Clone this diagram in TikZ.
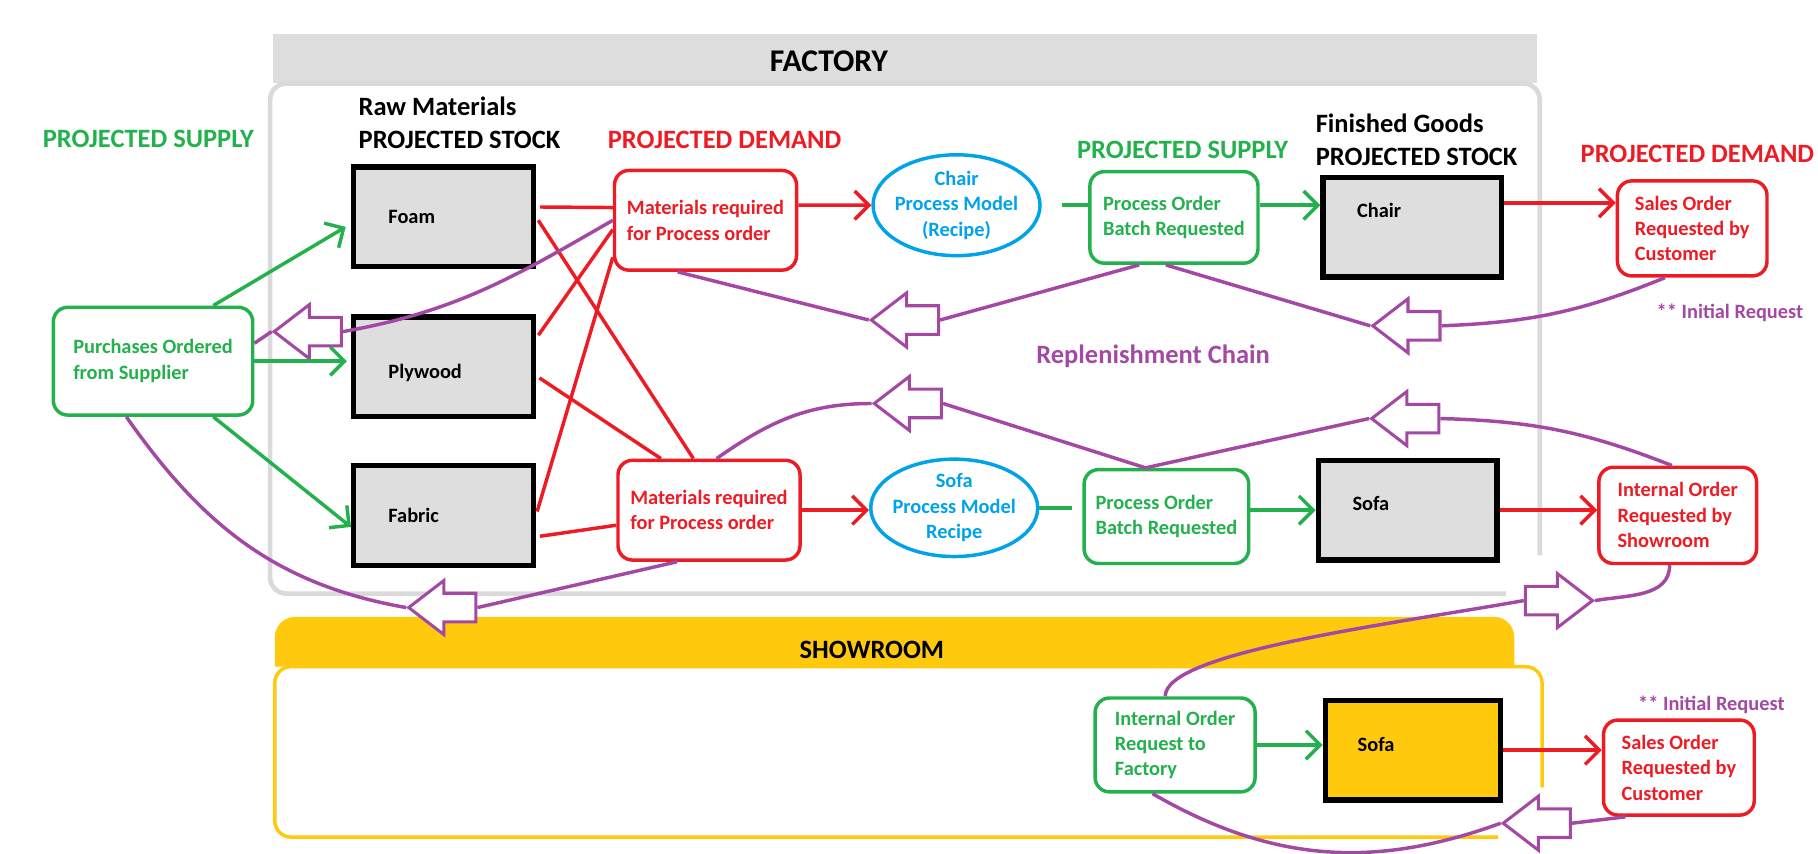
\documentclass[tikz,border=0pt]{standalone}
\usepackage{fontspec}
\setmainfont{Carlito}
\usetikzlibrary{positioning, arrows.meta, shapes.geometric, shapes.arrows}

\definecolor{supgreen}{HTML}{22B14C}
\definecolor{demred}{HTML}{ED1C24}
\definecolor{recblue}{HTML}{00A2E8}
\definecolor{repurple}{HTML}{A349A4}
\definecolor{showyellow}{HTML}{FFC90E}
\definecolor{stockgray}{HTML}{DEDEDE}
\definecolor{framegray}{HTML}{DADADA}

\begin{document}
\begin{tikzpicture}[
  boxfont/.style  = {font=\bfseries\fontsize{10}{12.5}\selectfont},
  stock/.style    = {rectangle, draw, line width=2.6pt, fill=stockgray, minimum width=3.1cm, minimum height=1.72cm, text width=1.9cm, align=left, inner sep=0pt, boxfont},
  demand/.style   = {rectangle, draw=demred, text=demred, line width=1.7pt, rounded corners=2.5mm, align=left, boxfont},
  supply/.style   = {rectangle, draw=supgreen, text=supgreen, line width=1.7pt, rounded corners=2.5mm, align=left, boxfont},
  recipe/.style   = {ellipse, draw=recblue, text=recblue, line width=1.7pt, minimum width=2.88cm, minimum height=1.74cm, inner sep=-2pt, align=center, boxfont},
  hdr/.style      = {font=\bfseries\fontsize{13}{16}\selectfont, align=left, inner sep=0pt},
  note/.style     = {font=\bfseries\fontsize{10}{12}\selectfont, text=repurple, inner sep=0pt},
  backarrow/.style = {single arrow, draw=repurple, fill=white, line width=1.5pt, minimum height=1.16cm, inner xsep=0pt, inner ysep=0.22cm, single arrow head extend=0.22cm, single arrow tip angle=75, shape border rotate=180},
  fwdarrow/.style = {backarrow, shape border rotate=0},
  sup/.style      = {supgreen, line width=1.7pt, -{Straight Barb[length=7pt, width=14pt]}},
  dem/.style      = {demred, line width=1.7pt, -{Straight Barb[length=7pt, width=14pt]}},
  feed/.style     = {demred, line width=1.7pt, shorten <=2pt},
  link/.style     = {supgreen, line width=1.7pt},
  repl/.style     = {repurple, line width=1.7pt},
  ]
  \useasboundingbox (0,0) rectangle (31.36,-14.72);

  % Factory and showroom frames
  \fill[stockgray] (4.71,-0.58) rectangle (26.52,-1.43);
  \draw[framegray, line width=2.3pt, rounded corners=8pt] (25.98,-10.24) -| (4.66,-1.44) -| (26.56,-9.58);
  \draw[showyellow, line width=1.7pt, rounded corners=8pt] (25.84,-14.44) -| (4.74,-11.5) -| (26.6,-13.58);
  \fill[showyellow] (4.74,-11.5) [rounded corners=10pt] -- (4.74,-10.64) -- (26.12,-10.64) [sharp corners] -- (26.12,-11.5) -- cycle;
  \node (factory)  at (14.3,-1.06)  [hdr, font=\bfseries\fontsize{15.5}{18}\selectfont] {FACTORY};
  \node (showroom) at (15.04,-11.21) [hdr] {SHOWROOM};

  % Column headings
  \node (supplyL)  at (2.56,-2.39)  [hdr, supgreen] {PROJECTED SUPPLY};
  \node (rawmat)   at (6.18,-2.12)  [hdr, anchor=west] {Raw Materials\\PROJECTED STOCK};
  \node (demandL)  at (12.5,-2.42)  [hdr, demred] {PROJECTED DEMAND};
  \node (supplyR)  at (20.4,-2.59)  [hdr, supgreen] {PROJECTED SUPPLY};
  \node (fingoods) at (22.69,-2.41) [hdr, anchor=west] {Finished Goods\\PROJECTED STOCK};
  \node (demandR)  at (29.28,-2.66) [hdr, demred] {PROJECTED DEMAND};
  \node (chain)    at (19.89,-6.14) [hdr, repurple] {Replenishment Chain};
  \node (initial1) at (29.84,-5.4)  [note] {** Initial Request};
  \node (initial2) at (29.52,-12.16) [note] {** Initial Request};

  % Supplier and raw materials
  \node (purchases) at (2.64,-6.23) [supply, minimum width=3.44cm, minimum height=1.86cm] {Purchases Ordered\\from Supplier};
  \node (foam)    at (7.65,-3.74) [stock] {Foam};
  \node (plywood) at (7.65,-6.33) [stock, text height=0.45cm] {Plywood};
  \node (fabric)  at (7.65,-8.89) [stock] {Fabric};

  % Process orders
  \node (mat1)  at (12.17,-3.80) [demand, minimum width=3.14cm, minimum height=1.72cm] {Materials required\\for Process order};
  \node (mat2)  at (12.23,-8.80) [demand, minimum width=3.14cm, minimum height=1.72cm] {Materials required\\for Process order};
  \node (chair) at (16.5,-3.54)  [recipe] {Chair\\Process Model\\(Recipe)};
  \node (sofa)  at (16.46,-8.76) [recipe, minimum height=1.68cm] {Sofa\\Process Model\\Recipe};
  \node (po1)   at (20.25,-3.75) [supply, minimum width=2.9cm, minimum height=1.58cm] {Process Order\\Batch Requested};
  \node (po2)   at (20.12,-8.91) [supply, minimum width=2.84cm, minimum height=1.62cm] {Process Order\\Batch Requested};

  % Finished goods and requests
  \node (chairfg)   at (24.36,-3.92) [stock, minimum width=3.08cm, text depth=0.6cm] {Chair};
  \node (sofafg)    at (24.28,-8.80) [stock, minimum width=3.08cm, text depth=0.24cm] {Sofa};
  \node (sales1)    at (29.19,-3.94) [demand, minimum width=2.58cm, minimum height=1.64cm] {Sales Order\\Requested by\\Customer};
  \node (internal1) at (28.94,-8.89) [demand, minimum width=2.72cm, minimum height=1.66cm] {Internal Order\\Requested by\\Showroom};

  % Showroom
  \node (internal2) at (20.27,-12.85) [supply, minimum width=2.76cm, minimum height=1.62cm] {Internal Order\\Request to\\Factory};
  \node (sofasr)    at (24.37,-12.94) [stock, fill=showyellow, minimum width=3.02cm, text depth=0.2cm] {Sofa};
  \node (sales2)    at (28.96,-13.24) [demand, minimum width=2.6cm, minimum height=1.64cm] {Sales Order\\Requested by\\Customer};

  % Replenishment arrows
  \node (a1) at (15.77,-5.52)  [backarrow] {};
  \node (a2) at (24.42,-5.62)  [backarrow] {};
  \node (a3) at (5.47,-5.72)   [backarrow] {};
  \node (a4) at (7.79,-10.48)  [backarrow] {};
  \node (a5) at (15.82,-6.96)  [backarrow] {};
  \node (a6) at (24.40,-7.22)  [backarrow] {};
  \node (a7) at (26.73,-10.36) [fwdarrow] {};
  \node (a8) at (26.67,-14.2)  [backarrow] {};

  % Supply into raw materials
  \draw
  ([xshift=1.04cm]purchases.north) edge [sup, shorten >=3pt] ([yshift=-0.12cm]foam.west)
  (purchases.east)                 edge [sup, shorten >=2pt] (purchases.east -| plywood.west)
  ([xshift=1.04cm]purchases.south) edge [sup] ([yshift=-0.2cm]fabric.west);

  % Materials needed by the process orders
  \draw
  ([yshift= 0.17cm]foam.east)    edge [feed] ([yshift= 0.22cm]mat1.west)
  (foam.east)                    edge [feed] ([xshift=-0.27cm]mat2.north)
  ([yshift= 0.49cm]plywood.east) edge [feed] ([yshift=-0.16cm]mat1.west)
  ([yshift=-0.15cm]plywood.east) edge [feed] ([xshift=-0.83cm]mat2.north)
  (fabric.east)                  edge [feed] ([yshift=-0.64cm]mat1.west)
  ([yshift=-0.37cm]fabric.east)  edge [feed] ([yshift=-0.26cm]mat2.west);

  % Demand and supply along the chain
  \draw
  ([yshift=0.26cm]mat1.east)    edge [dem] (chair.west)
  (mat2.east)                   edge [dem] (mat2.east -| sofa.west)
  (chair.east)                  edge [link, shorten <=0.35cm] (chair.east -| po1.west)
  (sofa.east)                   edge [link, shorten >=0.18cm] (sofa.east -| po2.west)
  ([yshift=0.21cm]po1.east)     edge [sup] ([yshift=0.38cm]chairfg.west)
  (po2.east |- sofafg.west)     edge [sup] (sofafg.west)
  ([yshift=0.42cm]chairfg.east) edge [dem] ([yshift=0.44cm]sales1.west)
  (sofafg.east)                 edge [dem] (sofafg.east -| internal1.west)
  (internal2.east)              edge [sup] (internal2.east -| sofasr.west)
  (sofasr.east)                 edge [dem] (sofasr.east -| sales2.west);

  % Replenishment chain
  \draw[repl]
  ([xshift=-0.6cm]po1.south)      -- (a1.tail)
  (a1.tip)                        -- ([xshift=-0.48cm]mat1.south)
  ([xshift=-0.47cm]sales1.south)  to[bend left=10] (a2.tail)
  (a2.tip)                        -- ([xshift=-0.14cm]po1.south)
  (mat1.west)                     to[out=210, in=10] (a3.tail)
  (a3.tip)                        -- ([yshift=0.31cm]purchases.east)
  ([xshift=-0.46cm]purchases.south) to[out=-55, in=170] (a4.tip)
  (a4.tail)                       -- ([xshift=-0.55cm]mat2.south)
  (a5.tip)                        to[out=180, in=35] ([xshift=0.13cm]mat2.north)
  (a5.tail)                       -- ([xshift=-0.36cm]po2.north)
  (a6.tip)                        -- ([xshift=-0.36cm]po2.north)
  (a6.tail)                       to[bend left=10] ([xshift=-0.1cm]internal1.north)
  ([xshift=-0.14cm]internal1.south) to[out=-90, in=10] (a7.tip)
  (a7.tail)                       to[out=190, in=90, in looseness=0.3] ([xshift=-0.17cm]internal2.north)
  ([xshift=-0.92cm]sales2.south)  -- (a8.tail)
  (a8.tip)                        to[out=200, in=-30] ([xshift=-0.39cm]internal2.south);
\end{tikzpicture}
\end{document}
